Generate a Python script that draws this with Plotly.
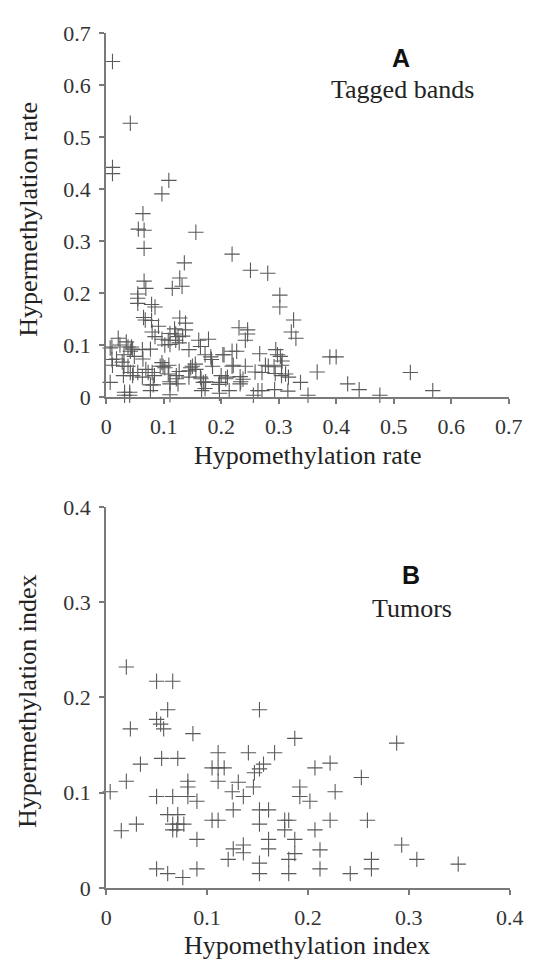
import plotly.graph_objects as go

W, H = 540, 974

# Panel A: tagged bands
hypo_rate = [
    0.011, 0.042, 0.011, 0.011, 0.109, 0.097, 0.064,
    0.056, 0.066, 0.066, 0.156, 0.219, 0.136, 0.128, 0.132, 0.115, 0.066, 0.069,
    0.055, 0.055, 0.055, 0.079, 0.085, 0.065, 0.068, 0.079, 0.091,
    0.128, 0.138, 0.138, 0.111, 0.119, 0.121, 0.125, 0.133, 0.127, 0.121,
    0.080, 0.085, 0.097, 0.108, 0.102, 0.111, 0.161, 0.178, 0.144, 0.164,
    0.172, 0.182, 0.183, 0.203, 0.219, 0.219,
    0.021, 0.010, 0.035, 0.044, 0.042, 0.031, 0.010, 0.018, 0.028, 0.031,
    0.049, 0.063, 0.077, 0.042, 0.030, 0.046, 0.055, 0.007, 0.032, 0.041,
    0.032, 0.041, 0.063, 0.069, 0.080, 0.077, 0.082, 0.097, 0.102, 0.094,
    0.108, 0.111, 0.125, 0.122, 0.144, 0.150, 0.155, 0.144, 0.164, 0.169,
    0.172, 0.197, 0.200, 0.211, 0.205,
    0.251, 0.281, 0.302, 0.302, 0.326, 0.322, 0.330, 0.231, 0.246, 0.246,
    0.242, 0.227, 0.267, 0.295, 0.298, 0.303, 0.306, 0.221, 0.277, 0.292,
    0.259, 0.233, 0.238, 0.233, 0.312, 0.338, 0.367, 0.389, 0.400, 0.420,
    0.440, 0.529, 0.568, 0.264, 0.271, 0.293, 0.316, 0.214, 0.256, 0.351,
    0.476, 0.077, 0.111, 0.166, 0.197,
    0.007, 0.011, 0.024, 0.038, 0.046, 0.038, 0.047, 0.064, 0.073, 0.084,
    0.099, 0.109, 0.111, 0.122, 0.127, 0.147, 0.156, 0.165, 0.173, 0.185,
    0.196, 0.208, 0.234, 0.242, 0.271, 0.282, 0.294, 0.305, 0.305, 0.317,
]
hyper_rate = [
    0.646, 0.527, 0.442, 0.430, 0.417, 0.391, 0.353,
    0.323, 0.321, 0.286, 0.317, 0.275, 0.258, 0.229, 0.213, 0.209, 0.223, 0.209,
    0.198, 0.190, 0.180, 0.178, 0.173, 0.153, 0.148, 0.147, 0.136,
    0.152, 0.142, 0.129, 0.122, 0.131, 0.121, 0.116, 0.117, 0.104, 0.109,
    0.125, 0.116, 0.111, 0.109, 0.100, 0.101, 0.109, 0.111, 0.091, 0.097,
    0.081, 0.077, 0.072, 0.081, 0.088, 0.059,
    0.113, 0.096, 0.106, 0.096, 0.088, 0.081, 0.072, 0.073, 0.067, 0.059,
    0.078, 0.091, 0.092, 0.047, 0.041, 0.041, 0.047, 0.028, 0.009, 0.009,
    0.003, 0.003, 0.038, 0.053, 0.047, 0.023, 0.023, 0.066, 0.056, 0.059,
    0.044, 0.025, 0.025, 0.041, 0.050, 0.059, 0.063, 0.038, 0.038, 0.028,
    0.016, 0.028, 0.041, 0.038, 0.081,
    0.244, 0.238, 0.196, 0.173, 0.148, 0.125, 0.113, 0.133, 0.129, 0.121,
    0.109, 0.088, 0.083, 0.091, 0.081, 0.078, 0.069, 0.061, 0.061, 0.058,
    0.048, 0.039, 0.034, 0.025, 0.044, 0.028, 0.048, 0.077, 0.077, 0.025,
    0.014, 0.047, 0.012, 0.012, 0.012, 0.014, 0.011, 0.012, 0.003, 0.003,
    0.003, 0.012, 0.004, 0.012, 0.007,
    0.094, 0.061, 0.100, 0.096, 0.092, 0.059, 0.047, 0.073, 0.047, 0.041,
    0.059, 0.061, 0.029, 0.035, 0.049, 0.056, 0.053, 0.035, 0.029, 0.059,
    0.024, 0.035, 0.029, 0.059, 0.047, 0.059, 0.045, 0.061, 0.041, 0.038,
]

# Panel B: tumors
hypo_index = [
    0.020, 0.050, 0.066, 0.061, 0.050, 0.054, 0.057, 0.024, 0.086, 0.152,
    0.187, 0.034, 0.055, 0.071, 0.111, 0.141, 0.167, 0.105, 0.111, 0.117,
    0.111, 0.156, 0.152, 0.147, 0.146, 0.020, 0.004, 0.081, 0.081, 0.081,
    0.050, 0.066, 0.090, 0.125, 0.131, 0.136, 0.192, 0.192, 0.015, 0.030,
    0.061, 0.071, 0.066, 0.071, 0.077, 0.066, 0.070, 0.090, 0.105, 0.111,
    0.126, 0.152, 0.161, 0.152, 0.161, 0.161, 0.126, 0.136, 0.136, 0.121,
    0.177, 0.181, 0.177, 0.187, 0.187, 0.181, 0.152, 0.152, 0.181, 0.050,
    0.061, 0.076, 0.090, 0.288, 0.207, 0.222, 0.253, 0.202, 0.227, 0.222,
    0.259, 0.207, 0.212, 0.212, 0.242, 0.263, 0.263, 0.293, 0.308, 0.349,
]
hyper_index = [
    0.232, 0.217, 0.217, 0.187, 0.177, 0.172, 0.167, 0.167, 0.162, 0.187,
    0.157, 0.130, 0.136, 0.136, 0.142, 0.142, 0.142, 0.126, 0.126, 0.126,
    0.112, 0.130, 0.125, 0.121, 0.106, 0.112, 0.101, 0.112, 0.106, 0.096,
    0.096, 0.096, 0.091, 0.101, 0.111, 0.096, 0.106, 0.096, 0.060, 0.067,
    0.077, 0.077, 0.067, 0.067, 0.067, 0.061, 0.061, 0.051, 0.071, 0.071,
    0.082, 0.082, 0.082, 0.067, 0.051, 0.041, 0.041, 0.045, 0.037, 0.030,
    0.071, 0.071, 0.061, 0.051, 0.036, 0.030, 0.026, 0.015, 0.015, 0.020,
    0.015, 0.011, 0.020, 0.152, 0.126, 0.131, 0.116, 0.091, 0.101, 0.071,
    0.071, 0.061, 0.040, 0.020, 0.015, 0.030, 0.020, 0.045, 0.030, 0.025,
]

ticks_a = [0, 0.1, 0.2, 0.3, 0.4, 0.5, 0.6, 0.7]
ticks_b = [0, 0.1, 0.2, 0.3, 0.4]
tick_text_a = ["0", "0.1", "0.2", "0.3", "0.4", "0.5", "0.6", "0.7"]
tick_text_b = ["0", "0.1", "0.2", "0.3", "0.4"]

SERIF = "'Liberation Serif', 'Times New Roman', serif"
SANS = "'Liberation Sans', Arial, sans-serif"
AXIS_COL = "#7a7a7a"
MARK_COL = "#5a5a5a"


def px_x(p):
    return p / W


def px_y(p):
    return 1 - p / H


marker = dict(symbol="cross-thin", size=11,
              line=dict(width=1.1, color=MARK_COL), color=MARK_COL)

fig = go.Figure()
fig.add_trace(go.Scatter(x=hypo_rate, y=hyper_rate, mode="markers",
                         marker=marker, cliponaxis=False,
                         xaxis="x", yaxis="y", showlegend=False))
fig.add_trace(go.Scatter(x=hypo_index, y=hyper_index, mode="markers",
                         marker=marker, cliponaxis=False,
                         xaxis="x2", yaxis="y2", showlegend=False))

axis_common = dict(showline=True, linecolor=AXIS_COL, linewidth=2,
                   ticks="outside", ticklen=5, tickwidth=1.5,
                   tickcolor=AXIS_COL, showgrid=False, zeroline=False,
                   tickfont=dict(family=SERIF, size=22, color="#333333"),
                   ticklabelstandoff=4)

fig.update_layout(
    width=W, height=H,
    margin=dict(l=0, r=0, t=0, b=0),
    paper_bgcolor="white", plot_bgcolor="white",
    font=dict(family=SERIF),
    xaxis=dict(domain=[px_x(104), px_x(522)], range=[0, 0.7], anchor="y",
               tickvals=ticks_a, ticktext=tick_text_a, **axis_common),
    yaxis=dict(domain=[px_y(395), px_y(22)], range=[0, 0.7], anchor="x",
               tickvals=ticks_a, ticktext=tick_text_a, **axis_common),
    xaxis2=dict(domain=[px_x(104), px_x(523)], range=[0, 0.4], anchor="y2",
                tickvals=ticks_b, ticktext=tick_text_b, **axis_common),
    yaxis2=dict(domain=[px_y(899), px_y(508)], range=[0, 0.4], anchor="x2",
                tickvals=ticks_b, ticktext=tick_text_b, **axis_common),
)

title_font = dict(family=SERIF, size=26, color="#222222")
labels = [
    ("Hypomethylation rate", 313, 455, 0),
    ("Hypermethylation rate", 23, 213, -90),
    ("Hypomethylation index", 313, 958, 0),
    ("Hypermethylation index", 23, 708, -90),
    ("Tagged bands", 412, 80, 0),
    ("Tumors", 422, 612, 0),
]
for text, x, y, ang in labels:
    fig.add_annotation(text=text, x=px_x(x), y=px_y(y), xref="paper",
                       yref="paper", showarrow=False, textangle=ang,
                       xanchor="center", yanchor="middle", font=title_font)

for text, x, y in [("A", 410, 47), ("B", 421, 578)]:
    fig.add_annotation(text="<b>%s</b>" % text, x=px_x(x), y=px_y(y),
                       xref="paper", yref="paper", showarrow=False,
                       xanchor="center", yanchor="middle",
                       font=dict(family=SANS, size=25, color="#111111"))

fig.write_html("out.html")
